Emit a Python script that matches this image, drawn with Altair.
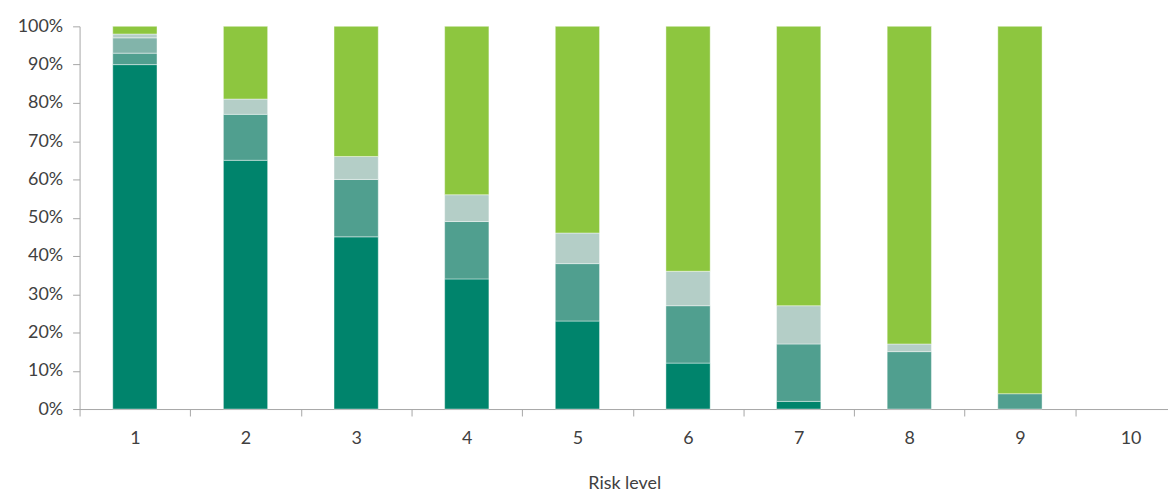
import altair as alt
import pandas as pd

risk_levels = ["1", "2", "3", "4", "5", "6", "7", "8", "9", "10"]
series = ["Series 1", "Series 2", "Series 3", "Series 4", "Series 5"]
s1 = [90, 65, 45, 34, 23, 12, 2, 0, 0, 0]
s2 = [3, 12, 15, 15, 15, 15, 15, 15, 4, 0]
s3 = [4, 0, 0, 0, 0, 0, 0, 0, 0, 0]
s4 = [1, 4, 6, 7, 8, 9, 10, 2, 0, 0]
s5 = [2, 19, 34, 44, 54, 64, 73, 83, 96, 0]
colors = ["#00846C", "#509F8F", "#82B4AA", "#B4CEC7", "#8DC63F"]

rows = []
for name, vals in zip(series, [s1, s2, s3, s4, s5]):
    for i, (lvl, v) in enumerate(zip(risk_levels, vals)):
        rows.append({"risk": lvl, "series": name, "value": v / 100.0, "order": series.index(name)})
df = pd.DataFrame(rows)

font = "Lato"
chart = alt.Chart(df).transform_filter(
    alt.datum.value > 0
).mark_bar(stroke="white", strokeWidth=0.6, strokeOpacity=0.7, width={"band": 0.40}).encode(
    x=alt.X("risk:N", sort=risk_levels,
            scale=alt.Scale(domain=risk_levels, paddingInner=0, paddingOuter=0, range=[0, 1113]),
            axis=alt.Axis(title="Risk level", labelAngle=0, tickBand="extent",
                          labelPadding=14, titlePadding=27, titleX=548, titleAlign="center")),
    y=alt.Y("value:Q", stack="zero",
            scale=alt.Scale(domain=[0, 1], nice=False),
            axis=alt.Axis(format=".0%", values=[i / 10 for i in range(11)], title=None,
                          grid=False, labelPadding=10)),
    color=alt.Color("series:N", scale=alt.Scale(domain=series, range=colors), legend=None),
    order=alt.Order("order:Q", sort="ascending"),
).properties(
    width=1095, height=385,
    autosize=alt.AutoSizeParams(type="none"),
    padding={"left": 72, "top": 17, "right": 0, "bottom": 82},
).configure_view(stroke=None).configure_axis(
    domainColor="#A6A6A6", tickColor="#A6A6A6", tickSize=7,
    labelFont=font, titleFont=font, labelFontSize=18, titleFontSize=18,
    labelColor="#404040", titleColor="#404040", titleFontWeight="normal",
)

chart.save("out.html", embed_options={"renderer": "svg", "actions": False})
